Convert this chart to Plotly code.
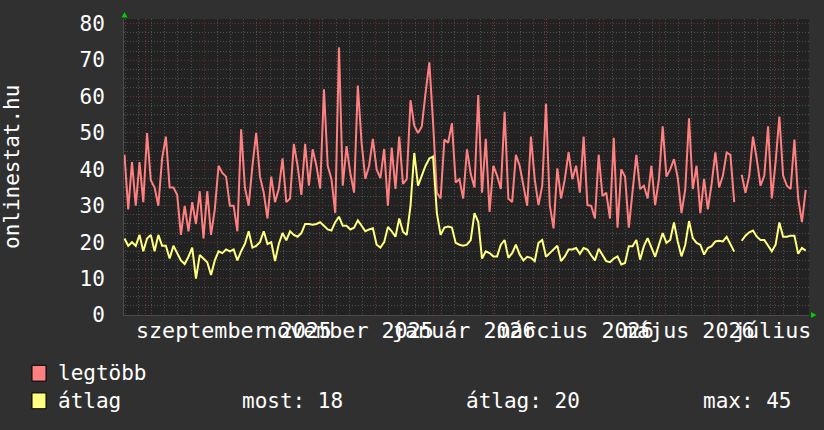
import plotly.graph_objects as go
import pandas as pd

# ---- data (2-day samples) ----
legtobb = [44, 29, 42, 30, 42, 31, 50, 37, 35, 30,
           43, 49, 35, 35, 33, 22, 30, 23, 31, 25,
           34, 21, 34, 22, 29, 41, 39, 38, 30, 30,
           23, 51, 35, 30, 41, 50, 38,
           33.6, 26.5, 38, 31, 34.6, 43, 31, 32, 47, 41,
           33, 47, 35.5, 45.5, 41, 34.7, 62, 41, 37.3, 28,
           73.5, 35.5, 46.4, 39, 33.6, 63, 47.3, 37.4, 41, 48.4,
           40, 37.6, 45.6, 30, 46, 34.6, 49,
           36, 37.3, 59, 52, 50, 51.8, 61, 69.4, 52.7, 33.6,
           32, 48.2, 47.3, 52.7, 36.4, 37.3, 32, 45.5, 38.7, 35,
           60.4, 33.6, 48.4, 28.3, 41, 38.3, 34.6, 55.8, 32, 31,
           44, 41, 35.5, 30, 49, 37.3,
           30.2, 35.5, 58, 30.2, 23.8, 40.3, 32, 37.3, 44.7, 37.3,
           41, 33.6, 49, 30.2, 30, 26.5, 44, 32.7, 33.6, 26.5,
           48.7, 24, 40, 38, 24, 33.6, 44, 34.6, 35.5, 32,
           41, 30.2, 37.3, 51.8, 38, 40,
           42.8, 37.7, 28, 34.6, 54, 34.6, 41, 28, 37.3, 29,
           36, 44.7, 35, 38.3, 44.6, 44, 31, None, 38.5, 33.6,
           38.3, 49, 42.8, 35.5, 38.3, 51.8, 32, 42, 54.5, 38.3,
           35.5, 34.6, 48.2, 32, 25.5, 34.4]

atlag = [21, 19, 20, 19, 22, 17.5, 21, 22, 17.5, 22,
         19, 19, 15.5, 19, 17, 15, 14, 16, 18.5, 10,
         16.5, 15.5, 14.5, 11, 15, 17.5, 17, 18, 17.5, 18,
         15, 17.5, 19.5, 23, 18.5, 19, 20,
         23, 19.5, 20, 14.8, 19.5, 22.5, 20.5, 23, 22, 21.5,
         22.5, 25, 25, 24.8, 25, 25.5, 24.5, 23.5, 23.2, 25.5,
         27, 24.5, 24.5, 23.5, 24, 26, 24.5, 23, 23.5, 23.8,
         19.3, 18.5, 20, 24.2, 23, 21.5, 26.5,
         22.9, 22, 30, 44.5, 35.5, 38.3, 41, 43, 43.5, 28,
         22, 24, 24.3, 24, 19.8, 19.3, 19, 19.3, 20.6, 28,
         25.6, 15.5, 17.5, 17, 16.1, 16.1, 19.3, 20.6, 15.7, 17,
         19.3, 16.6, 15, 16, 15.7, 14.8,
         19.8, 20.6, 16, 17, 18, 19, 14.8, 16.1, 18, 18,
         18.4, 16.8, 18.4, 18, 16.4, 15, 18.2, 16.6, 14.8, 14.5,
         15.5, 16.1, 13.9, 14.3, 18.9, 18.9, 20.6, 15.2, 18.9, 21.1,
         18.4, 16, 19.3, 22.5, 19.8, 20.6,
         25.4, 20.2, 16.1, 19.3, 25.8, 21.1, 19.8, 19.3, 16.6, 18.4,
         18.9, 20.2, 20.4, 20.2, 21.5, 19.3, 17.4, None, 20.4, 21.8,
         22.7, 23.2, 21.5, 20.6, 20.6, 18.9, 17.5, 19.3, 25.4, 21.5,
         21.5, 21.8, 21.8, 16.8, 18.4, 17.7]

dates = pd.date_range("2025-07-20 14:00", periods=len(legtobb), freq="2D")

month_labels = ["szeptember 2025", "november 2025", "január 2026",
                "március 2026", "május 2026", "július 2026"]
month_label_dates = ["2025-09-17", "2025-11-17", "2026-01-17",
                     "2026-03-17", "2026-05-17", "2026-07-17"]

y_tick_values = [0, 10, 20, 30, 40, 50, 60, 70, 80]

series_names = ["legtöbb", "átlag"]
series_colors = ["#ff8080", "#ffff80"]
stat_names = ["most", "átlag", "max"]
stat_values = [18, 20, 45]

# ---- layout constants ----
W, H = 824, 430
L, R, T, B = 124, 15, 15, 115
PW, PH = W - L - R, H - T - B
FONT = "DejaVu Sans Mono"
FS = 21
TXT = "#ffffff"
MAJOR = "#6e2c2c"
MINOR = "#4e4e4e"
DOTS = "1px,2px"


def px(xp):
    return (xp - L) / PW


def py(yp):
    return (H - B - yp) / PH


fig = go.Figure()
for name, vals, col in zip(series_names, [legtobb, atlag], series_colors):
    fig.add_trace(go.Scatter(x=dates, y=vals, mode="lines", name=name,
                             line=dict(color=col, width=2), connectgaps=False,
                             showlegend=False))

annotations = []
for lab, d in zip(month_labels, month_label_dates):
    annotations.append(dict(x=d, xref="x", y=py(331), yref="paper", text=lab,
                            showarrow=False, xanchor="center", yanchor="middle",
                            font=dict(family=FONT, size=21.7, color=TXT)))

annotations.append(dict(x=px(12), xref="paper", y=py(165), yref="paper",
                        text="onlinestat.hu", textangle=-90, showarrow=False,
                        xanchor="center", yanchor="middle",
                        font=dict(family=FONT, size=FS, color=TXT)))

# legend
leg_rows = [374, 402]
shapes = []
for name, col, yr in zip(series_names, series_colors, leg_rows):
    shapes.append(dict(type="rect", xref="paper", yref="paper",
                       x0=px(32), x1=px(46), y0=py(yr - 8), y1=py(yr + 8),
                       fillcolor=col, line=dict(color="#000000", width=1)))
    annotations.append(dict(x=px(56), xref="paper", y=py(yr), yref="paper",
                            text=name, showarrow=False, xanchor="left",
                            yanchor="middle",
                            font=dict(family=FONT, size=FS, color=TXT)))
for sn, sv, xs in zip(stat_names, stat_values, [240, 464, 701]):
    annotations.append(dict(x=px(xs), xref="paper", y=py(leg_rows[1]), yref="paper",
                            text=f"{sn}: {sv}", showarrow=False, xanchor="left",
                            yanchor="middle",
                            font=dict(family=FONT, size=FS, color=TXT)))

# axis arrows
def tri(pts):
    p = " L ".join(f"{px(a):.5f},{py(b):.5f}" for a, b in pts)
    return "M " + p + " Z"

shapes.append(dict(type="path", xref="paper", yref="paper",
                   path=tri([(121.5, 13.5), (127.5, 13.5), (124.5, 8)]),
                   fillcolor="#00cc00", line=dict(color="#00cc00", width=0)))
shapes.append(dict(type="path", xref="paper", yref="paper",
                   path=tri([(811, 312), (811, 318), (816.5, 315)]),
                   fillcolor="#00cc00", line=dict(color="#00cc00", width=0)))

fig.update_layout(
    width=W, height=H,
    margin=dict(l=L, r=R, t=T, b=B, pad=0),
    paper_bgcolor="#303030", plot_bgcolor="#222222",
    font=dict(family=FONT, size=FS, color=TXT),
    annotations=annotations, shapes=shapes,
    hovermode=False,
    xaxis=dict(type="date", range=["2025-07-20 08:00", "2026-07-19 08:00"],
               tick0="2025-08-01", dtick="M1", showticklabels=False,
               ticks="", showgrid=True, gridcolor=MAJOR, griddash=DOTS,
               gridwidth=1, zeroline=False, showline=True, linecolor="#4a4a4a",
               minor=dict(tick0="2025-07-28", dtick=7 * 86400000, showgrid=True,
                          gridcolor=MINOR, griddash=DOTS, gridwidth=1)),
    yaxis=dict(range=[0, PH / 3.69], tickvals=y_tick_values,
               ticktext=[str(v) for v in y_tick_values],
               showgrid=True, gridcolor=MAJOR, griddash=DOTS, gridwidth=1,
               zeroline=False, showline=True, linecolor="#4a4a4a",
               ticks="", ticklabelstandoff=14,
               tickfont=dict(family=FONT, size=FS, color=TXT),
               minor=dict(dtick=2.5, tick0=0, showgrid=True, gridcolor=MINOR,
                          griddash=DOTS, gridwidth=1)),
)

fig.write_html("out.html")
